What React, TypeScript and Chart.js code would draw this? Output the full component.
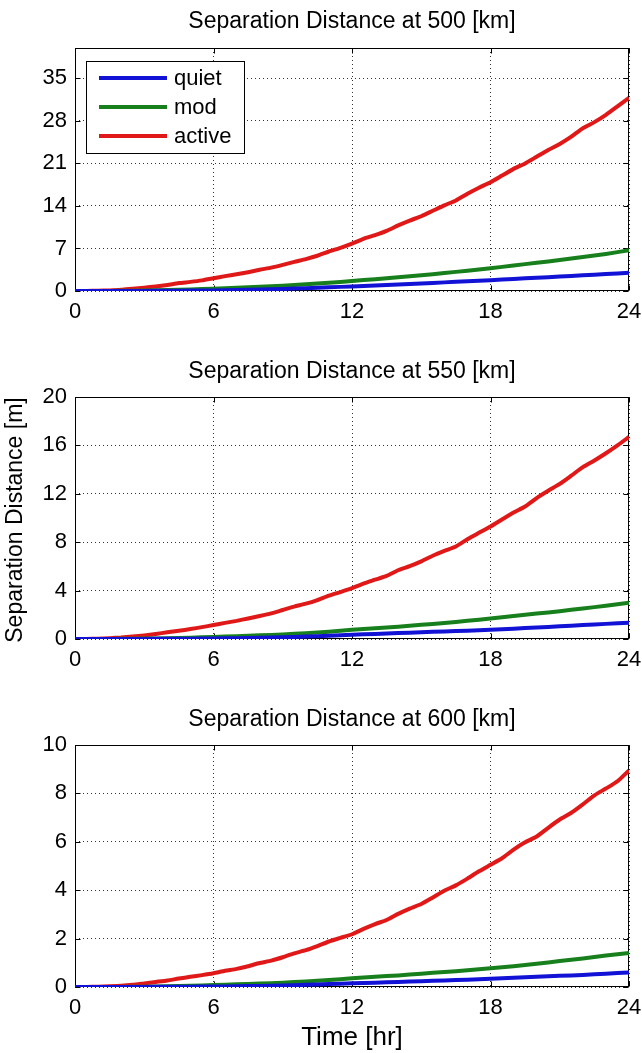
import React, { useEffect, useRef } from "react";
import { Chart, registerables } from "chart.js";
Chart.register(...registerables);

const FONT = "'Liberation Sans', Arial, sans-serif";

const seriesNames = ["quiet", "mod", "active"];
const seriesColors = ["#1212d6", "#17801c", "#e01818"];

const xTicks = [0, 6, 12, 18, 24];
const hours = [0, 1, 2, 3, 4, 5, 6, 7, 8, 9, 10, 11, 12, 13, 14, 15, 16, 17, 18, 19, 20, 21, 22, 23, 24];
const halfHours = [0, 0.5, 1, 1.5, 2, 2.5, 3, 3.5, 4, 4.5, 5, 5.5, 6, 6.5, 7, 7.5, 8, 8.5, 9, 9.5, 10, 10.5, 11, 11.5, 12,
  12.5, 13, 13.5, 14, 14.5, 15, 15.5, 16, 16.5, 17, 17.5, 18, 18.5, 19, 19.5, 20, 20.5, 21, 21.5, 22, 22.5, 23, 23.5, 24];

// 500 km
const quiet500 = [0, 0, 0.01, 0.02, 0.04, 0.07, 0.1, 0.16, 0.24, 0.34, 0.46, 0.6, 0.76, 0.92, 1.08, 1.25, 1.42, 1.6, 1.78, 1.98, 2.18, 2.38, 2.58, 2.8, 3.0];
const mod500 = [0, 0.01, 0.03, 0.08, 0.15, 0.25, 0.38, 0.52, 0.68, 0.86, 1.1, 1.35, 1.65, 1.95, 2.25, 2.6, 2.95, 3.35, 3.75, 4.2, 4.65, 5.1, 5.6, 6.1, 6.7];
const active500 = [0, 0.01, 0.04, 0.1, 0.2, 0.38, 0.55, 0.75, 1.0, 1.3, 1.5, 1.75, 2.1, 2.45, 2.75, 3.1, 3.5, 3.85, 4.3, 4.8, 5.25, 5.8, 6.5, 7.1, 7.8,
  8.6, 9.2, 9.9, 10.8, 11.6, 12.3, 13.2, 14.1, 14.9, 16.0, 17.0, 17.9, 19.0, 20.1, 21.0, 22.1, 23.2, 24.2, 25.4, 26.8, 27.8, 29.0, 30.4, 31.8];

// 550 km
const quiet550 = [0, 0, 0, 0.01, 0.02, 0.03, 0.05, 0.07, 0.1, 0.14, 0.2, 0.27, 0.35, 0.42, 0.49, 0.56, 0.63, 0.69, 0.76, 0.85, 0.95, 1.05, 1.15, 1.25, 1.35];
const mod550 = [0, 0.005, 0.015, 0.035, 0.065, 0.11, 0.17, 0.23, 0.3, 0.38, 0.48, 0.6, 0.76, 0.88, 1.02, 1.17, 1.33, 1.5, 1.7, 1.9, 2.1, 2.3, 2.52, 2.75, 3.0];
const active550 = [0, 0.01, 0.03, 0.07, 0.12, 0.2, 0.3, 0.42, 0.55, 0.68, 0.82, 0.98, 1.15, 1.33, 1.5, 1.7, 1.9, 2.12, 2.4, 2.68, 2.92, 3.22, 3.58, 3.88, 4.2,
  4.58, 4.9, 5.22, 5.68, 6.02, 6.42, 6.88, 7.28, 7.65, 8.25, 8.78, 9.3, 9.88, 10.45, 10.95, 11.65, 12.25, 12.82, 13.5, 14.2, 14.75, 15.35, 16.0, 16.7];

// 600 km
const quiet600 = [0, 0, 0, 0.005, 0.01, 0.015, 0.02, 0.03, 0.045, 0.065, 0.09, 0.12, 0.15, 0.18, 0.21, 0.24, 0.27, 0.3, 0.34, 0.38, 0.42, 0.46, 0.5, 0.55, 0.6];
const mod600 = [0, 0, 0.005, 0.015, 0.03, 0.05, 0.08, 0.11, 0.14, 0.18, 0.23, 0.29, 0.36, 0.42, 0.48, 0.55, 0.62, 0.69, 0.77, 0.86, 0.96, 1.07, 1.18, 1.3, 1.41];
const active600 = [0, 0.005, 0.015, 0.03, 0.05, 0.09, 0.15, 0.21, 0.27, 0.35, 0.42, 0.49, 0.57, 0.67, 0.75, 0.86, 0.99, 1.09, 1.23, 1.39, 1.52, 1.69, 1.88, 2.03, 2.18,
  2.4, 2.6, 2.77, 3.02, 3.24, 3.43, 3.7, 3.98, 4.2, 4.48, 4.78, 5.05, 5.32, 5.68, 5.98, 6.22, 6.58, 6.92, 7.2, 7.55, 7.92, 8.2, 8.5, 8.95];

const yTicks500 = [0, 7, 14, 21, 28, 35];
const yTicks550 = [0, 4, 8, 12, 16, 20];
const yTicks600 = [0, 2, 4, 6, 8, 10];

type PanelCfg = {
  title: string;
  quiet: number[];
  mod: number[];
  active: number[];
  yMax: number;
  yTicks: number[];
  top: number;
  height: number;
  padTop: number;
  xAxisH: number;
  titleY: number;
  legend?: boolean;
  yTitle?: string;
  yTitleY?: number;
  xTitle?: string;
  xTitleY?: number;
};

const panels: PanelCfg[] = [
  { title: "Separation Distance at 500 [km]", quiet: quiet500, mod: mod500, active: active500, yMax: 40, yTicks: yTicks500,
    top: 0, height: 340, padTop: 48, xAxisH: 49, titleY: 22, legend: true },
  { title: "Separation Distance at 550 [km]", quiet: quiet550, mod: mod550, active: active550, yMax: 20, yTicks: yTicks550,
    top: 340, height: 350, padTop: 57, xAxisH: 51, titleY: 32, yTitle: "Separation Distance [m]", yTitleY: 180 },
  { title: "Separation Distance at 600 [km]", quiet: quiet600, mod: mod600, active: active600, yMax: 10, yTicks: yTicks600,
    top: 690, height: 363, padTop: 55, xAxisH: 66, titleY: 30, xTitle: "Time [hr]", xTitleY: 348 },
];

function Panel({ cfg }: { cfg: PanelCfg }) {
  const ref = useRef<HTMLCanvasElement>(null);
  useEffect(() => {
    if (!ref.current) return;
    const seriesX = [hours, hours, halfHours];
    const seriesY = [cfg.quiet, cfg.mod, cfg.active];
    const framePlugin = {
      id: "frame",
      beforeDatasetsDraw(chart: any) {
        const { ctx, chartArea: a, scales } = chart;
        ctx.save();
        ctx.strokeStyle = "#000";
        ctx.lineWidth = 1;
        const L = Math.round(a.left) + 0.5, R = Math.round(a.right) - 0.5;
        const T = Math.round(a.top) + 0.5, B = Math.round(a.bottom) - 0.5;
        ctx.strokeRect(L, T, R - L, B - T);
        ctx.beginPath();
        xTicks.forEach((v) => {
          const px = Math.round(scales.x.getPixelForValue(v)) + 0.5;
          ctx.moveTo(px, B); ctx.lineTo(px, B - 5);
          ctx.moveTo(px, T); ctx.lineTo(px, T + 5);
        });
        cfg.yTicks.forEach((v) => {
          const py = Math.round(scales.y.getPixelForValue(v)) + 0.5;
          ctx.moveTo(L, py); ctx.lineTo(L + 5, py);
          ctx.moveTo(R, py); ctx.lineTo(R - 5, py);
        });
        ctx.stroke();
        ctx.restore();
      },
      afterDraw(chart: any) {
        const { ctx, chartArea: a } = chart;
        const cx = (a.left + a.right) / 2;
        ctx.save();
        ctx.fillStyle = "#000";
        ctx.textAlign = "center";
        ctx.textBaseline = "middle";
        ctx.font = `23px ${FONT}`;
        ctx.fillText(cfg.title, cx, cfg.titleY);
        if (cfg.xTitle) {
          ctx.font = `26px ${FONT}`;
          ctx.fillText(cfg.xTitle, cx, cfg.xTitleY);
        }
        if (cfg.yTitle) {
          ctx.save();
          ctx.translate(16, cfg.yTitleY);
          ctx.rotate(-Math.PI / 2);
          ctx.font = `23px ${FONT}`;
          ctx.fillText(cfg.yTitle, 0, 0);
          ctx.restore();
        }
        if (cfg.legend) {
          const bx = 86.5, by = 61.5, bw = 158, bh = 92;
          ctx.fillStyle = "#fff";
          ctx.fillRect(bx, by, bw, bh);
          ctx.strokeStyle = "#000";
          ctx.lineWidth = 1;
          ctx.strokeRect(bx, by, bw, bh);
          ctx.textAlign = "left";
          ctx.font = `22px ${FONT}`;
          seriesNames.forEach((name, i) => {
            const y = 78 + i * 29;
            ctx.strokeStyle = seriesColors[i];
            ctx.lineWidth = 4;
            ctx.beginPath();
            ctx.moveTo(99, y);
            ctx.lineTo(167, y);
            ctx.stroke();
            ctx.fillStyle = "#000";
            ctx.fillText(name, 174, y + 1);
          });
        }
        ctx.restore();
      },
    };
    const chart = new Chart(ref.current, {
      type: "line",
      data: {
        datasets: seriesNames.map((name, i) => ({
          label: name,
          data: seriesX[i].map((x, j) => ({ x, y: seriesY[i][j] })),
          borderColor: seriesColors[i],
          backgroundColor: seriesColors[i],
          borderWidth: 4,
          pointRadius: 0,
          tension: 0.2,
          fill: false,
        })),
      },
      options: {
        animation: false,
        responsive: false,
        events: [],
        layout: { padding: { left: 0, right: 13, top: cfg.padTop, bottom: 0 } },
        plugins: { legend: { display: false }, tooltip: { enabled: false }, title: { display: false } },
        scales: {
          x: {
            type: "linear",
            min: 0,
            max: 24,
            afterBuildTicks: (s: any) => { s.ticks = xTicks.map((v) => ({ value: v })); },
            afterFit: (s: any) => { s.height = cfg.xAxisH; s.paddingLeft = 0; s.paddingRight = 0; },
            ticks: { autoSkip: false, maxRotation: 0, padding: 8, color: "#000", font: { family: FONT, size: 22 } },
            grid: { color: "rgba(0,0,0,0.8)", lineWidth: 1, drawTicks: false },
            border: { display: false, dash: [1, 3] },
          },
          y: {
            type: "linear",
            min: 0,
            max: cfg.yMax,
            afterBuildTicks: (s: any) => { s.ticks = cfg.yTicks.map((v) => ({ value: v })); },
            afterFit: (s: any) => { s.width = 75; s.paddingTop = 0; s.paddingBottom = 0; },
            ticks: { autoSkip: false, padding: 8, color: "#000", font: { family: FONT, size: 22 } },
            grid: { color: "rgba(0,0,0,0.8)", lineWidth: 1, drawTicks: false },
            border: { display: false, dash: [1, 3] },
          },
        },
      },
      plugins: [framePlugin],
    });
    return () => chart.destroy();
  }, [cfg]);
  return (
    <div style={{ position: "absolute", left: 0, top: cfg.top, width: 642, height: cfg.height }}>
      <canvas ref={ref} width={642} height={cfg.height} style={{ display: "block" }} />
    </div>
  );
}

export default function App() {
  return (
    <div style={{ position: "absolute", left: 0, top: 0, width: 642, height: 1053, background: "#fff" }}>
      {panels.map((p, i) => (
        <Panel key={i} cfg={p} />
      ))}
    </div>
  );
}
